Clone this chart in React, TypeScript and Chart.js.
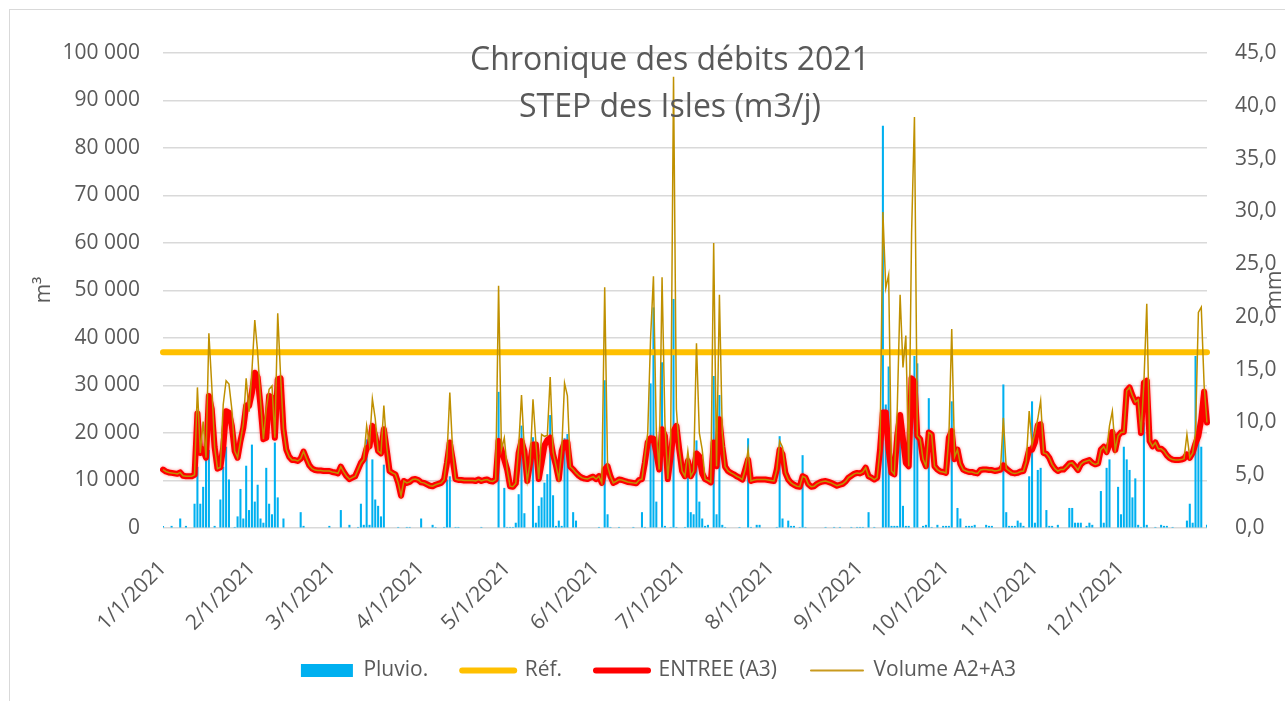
import React, { useEffect, useRef } from 'react';
import { Chart, registerables } from 'chart.js';

Chart.register(...registerables);

const FONT = '"Open Sans", "Noto Sans", sans-serif';
const TEXT = '#595959';

const monthLengths = [31, 28, 31, 30, 31, 30, 31, 31, 30, 31, 30, 31];
const tickLabels = ['1/1/2021', '2/1/2021', '3/1/2021', '4/1/2021', '5/1/2021', '6/1/2021', '7/1/2021', '8/1/2021', '9/1/2021', '10/1/2021', '11/1/2021', '12/1/2021'];
const titleLines = ['Chronique des débits 2021', 'STEP des Isles (m3/j)'];
const refLevel = 37000;

// ENTREE (A3), m3/day
const entreeA3 = [
  12300, 11900, 11700, 11600, 11500, 11400, 11700, 11000, 10900, 10900, 10900, 11200, 24100, 15800, 16500, 14800, 27800, 25000, 17000, 12500, 12800, 17000, 24600, 24300, 21500, 16200, 14800, 18300, 21100, 25800, 25700,
  28500, 32700, 31700, 25700, 18700, 19000, 27800, 27500, 19000, 31300, 31500, 20800, 16500, 15000, 14300, 14300, 14100, 14600, 16100, 14600, 13200, 12500, 12200, 12100, 12100, 12000, 12000, 12000,
  11800, 11700, 11500, 12900, 11800, 10900, 10300, 10600, 10900, 12300, 13700, 14500, 16800, 17200, 21500, 19400, 16200, 15700, 20800, 16500, 12000, 11600, 11300, 9500, 6800, 9900, 9500, 9700, 10200, 10300, 10100,
  9600, 9500, 9200, 8900, 8800, 9100, 9300, 9500, 10200, 13700, 18000, 14400, 10300, 10100, 10100, 10000, 10000, 10000, 10000, 9900, 10200, 9900, 10100, 10200, 9900, 9800, 10200, 18300, 16500, 14400,
  12300, 8800, 8700, 9400, 15800, 18300, 16200, 9900, 13700, 17600, 17600, 10300, 13700, 17400, 18500, 19000, 15500, 13200, 10300, 16200, 18000, 18000, 12900, 12300, 11600, 11000, 10600, 10400, 10300, 10600, 10800,
  10300, 10900, 9500, 12300, 13000, 10900, 9500, 9800, 10200, 10100, 9900, 9700, 9600, 9500, 9400, 10100, 10300, 13700, 18000, 18900, 18800, 15800, 12300, 20800, 19400, 10300, 15100, 20400, 21500, 16500,
  12000, 10900, 14100, 10900, 12000, 15700, 15100, 11500, 10300, 10000, 9600, 18000, 13000, 22900, 17200, 12900, 12000, 11600, 11300, 10900, 10600, 10200, 12300, 14400, 9900, 10100, 10200, 10200, 10200, 10200, 10100,
  10000, 9900, 12300, 16500, 15500, 11600, 10200, 9500, 9100, 8800, 8700, 10900, 10600, 9200, 8700, 8800, 9300, 9600, 9800, 9900, 9700, 9500, 9200, 8900, 9100, 9300, 9800, 10600, 11000, 11400, 11600,
  11500, 11800, 12700, 10900, 10600, 10200, 10600, 16500, 24300, 24300, 16500, 11600, 11300, 19400, 23800, 18700, 13700, 13000, 31500, 30800, 19400, 18700, 14500, 13000, 20100, 19700, 13000, 12300, 11900, 11800,
  11600, 19000, 20400, 14500, 16500, 13500, 12300, 12000, 11800, 11800, 11600, 11500, 12200, 12300, 12300, 12200, 12200, 12000, 12100, 12300, 13200, 12500, 12000, 11600, 11500, 11600, 11900, 12000, 14000, 16500, 16500,
  18000, 21600, 21800, 15800, 15600, 14800, 13400, 12500, 12000, 12300, 12300, 12900, 13600, 13700, 13000, 12200, 13400, 13900, 14100, 14300, 13700, 13400, 13600, 16500, 17100, 16000, 17600, 20200, 16400, 19400,
  20100, 20200, 28900, 29600, 27900, 26500, 27000, 20000, 30600, 31000, 18300, 17200, 18000, 16700, 16700, 16200, 15300, 14700, 14400, 14300, 14300, 14400, 14600, 15500, 14800, 15800, 17800, 19400, 22900, 28700, 22200,
];

// Volume A2+A3, m3/day
const volumeA2A3 = [
  12300, 11900, 11700, 11600, 11500, 11400, 11700, 11000, 10900, 10900, 10900, 11200, 29600, 15800, 22400, 14800, 41000, 30000, 17000, 12500, 12800, 26000, 31000, 30300, 25000, 16200, 14800, 18300, 22000, 31500, 24500,
  33000, 43800, 37000, 27000, 18700, 25000, 29200, 29900, 19000, 45200, 32000, 20800, 16500, 15000, 14300, 14300, 14100, 14600, 16100, 14600, 13200, 12500, 12200, 12100, 12100, 12000, 12000, 12000,
  11800, 11700, 11500, 12900, 11800, 10900, 10300, 10600, 10900, 12300, 13700, 14500, 21500, 17500, 27200, 23000, 16200, 15700, 25800, 17000, 12000, 11600, 11300, 9500, 6800, 9900, 9500, 9700, 10200, 10300, 10100,
  9600, 9500, 9200, 8900, 8800, 9100, 9300, 9500, 10200, 15000, 28500, 16000, 10300, 10100, 10100, 10000, 10000, 10000, 10000, 9900, 10200, 9900, 10100, 10200, 9900, 9800, 10200, 51000, 16500, 19000,
  12300, 8800, 8700, 9400, 17000, 28000, 16200, 9900, 13700, 27100, 18000, 10300, 19700, 19300, 19500, 31800, 16000, 13200, 10300, 16200, 30500, 27800, 12900, 12300, 11600, 11000, 10600, 10400, 10300, 10600, 10800,
  10300, 10900, 9500, 50700, 13000, 10900, 9500, 9800, 10200, 10100, 9900, 9700, 9600, 9500, 9400, 10100, 10300, 15000, 20000, 40000, 53000, 20000, 12300, 52800, 22000, 10300, 18000, 95000, 25000, 16500,
  12000, 10900, 16200, 10900, 12000, 38900, 20000, 16500, 10300, 10000, 9600, 60000, 13000, 49100, 20000, 12900, 12000, 11600, 11300, 10900, 10600, 10200, 12300, 16500, 9900, 10100, 10200, 10200, 10200, 10200, 10100,
  10000, 9900, 12300, 18300, 17000, 11600, 10200, 9500, 9100, 8800, 8700, 10900, 10600, 9200, 8700, 8800, 9300, 9600, 9800, 9900, 9700, 9500, 9200, 8900, 9100, 9300, 9800, 10600, 11000, 11400, 11600,
  11500, 11800, 12700, 10900, 10600, 10200, 10600, 16500, 66500, 50500, 53300, 12000, 11300, 25000, 49100, 33800, 40500, 13000, 62000, 86500, 19400, 18700, 14500, 13000, 20100, 19700, 13000, 12300, 11900, 11800,
  11600, 19000, 41900, 15000, 16500, 13500, 12300, 12000, 11800, 11800, 11600, 11500, 12200, 12300, 12300, 12200, 12200, 12000, 12100, 12300, 23200, 12500, 12000, 11600, 11500, 11600, 11900, 12000, 14000, 24600, 17500,
  20000, 23000, 26800, 15800, 15600, 14800, 13400, 12500, 12000, 12300, 12300, 12900, 13600, 13700, 13000, 12200, 13400, 13900, 14100, 14300, 13700, 13400, 13600, 16500, 17100, 16000, 21500, 24600, 16400, 19400,
  20100, 20200, 28900, 29600, 27900, 26500, 27000, 20000, 30600, 47200, 18300, 17200, 18000, 16700, 16700, 16200, 15300, 14700, 14400, 14300, 14300, 14400, 14600, 19700, 14800, 15800, 20000, 45400, 46500, 30000, 22200,
];

// Pluvio., mm/day
const pluvio = [
  0.2, 0, 0, 0.2, 0, 0, 0.9, 0, 0.2, 0, 0, 2.3, 5.8, 2.3, 3.9, 6.5, 7.4, 0, 0.2, 0, 2.7, 5.8, 7.7, 4.6, 0, 0.1, 1.1, 3.7, 0.9, 5.9, 1.7,
  7.9, 2.5, 4.1, 0.9, 0.5, 5.7, 2.3, 1.3, 8.1, 2.9, 0, 0.9, 0, 0, 0, 0, 0, 1.5, 0.2, 0, 0, 0, 0, 0, 0, 0, 0, 0.2,
  0, 0, 0, 1.7, 0, 0, 0.3, 0, 0, 0.1, 2.3, 0.3, 8.4, 0.3, 6.5, 2.7, 2.1, 1.1, 6.0, 0, 0, 0, 0, 0.1, 0, 0, 0.1, 0.1, 0, 0, 0,
  0.9, 0, 0, 0, 0.3, 0.1, 0, 0, 0.1, 4.6, 4.9, 0, 0.1, 0.1, 0, 0, 0, 0, 0, 0, 0, 0.1, 0, 0, 0, 0, 0, 12.9, 0, 3.8,
  0.1, 0.1, 0.1, 0.5, 3.2, 9.7, 1.4, 0, 0, 8.6, 0.5, 2.1, 2.9, 4.3, 5.1, 10.7, 3.1, 0.2, 0.7, 0.2, 8.5, 8.9, 0, 1.5, 0.7, 0, 0, 0, 0, 0, 0,
  0, 0.1, 0, 14, 1.3, 0.1, 0, 0, 0.1, 0, 0, 0, 0, 0.1, 0, 0, 1.5, 0.1, 0, 13.7, 20.9, 2.5, 0, 15.7, 0.2, 0, 0.1, 21.7, 0.1, 0,
  0, 0.1, 4.9, 1.5, 1.3, 8.3, 2.5, 0.9, 0.2, 0.3, 0, 14.4, 1.3, 12.6, 0.3, 0.1, 0, 0, 0, 0, 0.1, 0, 0, 8.5, 0.1, 0, 0.3, 0.3, 0, 0, 0,
  0, 0, 0.1, 8.7, 0.9, 0, 0.7, 0.2, 0.2, 0, 0.1, 6.9, 0.1, 0, 0, 0, 0, 0, 0, 0.1, 0, 0, 0.1, 0, 0.1, 0, 0, 0, 0.1, 0, 0.1,
  0.1, 0.1, 0, 1.5, 0, 0.1, 0, 0, 38.1, 11.7, 15.3, 0.2, 0.2, 0.2, 10, 2.1, 0.2, 0.2, 0, 16.3, 15.6, 0, 0.2, 0.3, 12.3, 0.1, 0, 0.3, 0, 0.2,
  0.2, 0.2, 12, 0, 1.9, 0.9, 0, 0.2, 0.2, 0.2, 0.3, 0, 0, 0, 0.3, 0.2, 0.2, 0, 0, 0, 13.6, 1.5, 0.2, 0.2, 0.2, 0.7, 0.5, 0.2, 0, 4.9, 12,
  0.5, 5.5, 5.7, 0, 1.7, 0.2, 0.2, 0, 0.3, 0, 0, 0, 1.9, 1.9, 0.5, 0.5, 0.5, 0, 0.2, 0.5, 0.3, 0, 0, 3.5, 0.5, 5.7, 6.5, 0, 0, 3.9,
  1.3, 7.7, 6.5, 5.5, 2.9, 4.7, 0.3, 0.1, 10, 0.3, 0, 0, 0.1, 0, 0.3, 0.2, 0.2, 0, 0.1, 0, 0, 0, 0, 0.7, 2.3, 0.5, 16.3, 8.4, 7.7, 0, 0.3,
];

const dayLabels: string[] = [];
monthLengths.forEach((n, m) => {
  for (let d = 1; d <= n; d++) dayLabels.push(`${m + 1}/${d}/2021`);
});

const legendSpec = [
  { style: 'rect', color: '#00b0f0', width: 0 },
  { style: 'line', color: '#ffc000', width: 6 },
  { style: 'line', color: '#ff0000', width: 6 },
  { style: 'line', color: '#c99a1e', width: 2 },
];

const fmtThousands = (v: number) => String(v).replace(/\B(?=(\d{3})+(?!\d))/g, ' ');

const overlayText = {
  id: 'overlayText',
  afterDraw(chart: any) {
    const ctx = chart.ctx;
    ctx.save();
    ctx.fillStyle = TEXT;
    ctx.textAlign = 'center';
    ctx.textBaseline = 'alphabetic';
    ctx.font = `32px ${FONT}`;
    titleLines.forEach((t, i) => ctx.fillText(t, 662, 61.5 + i * 47));
    ctx.font = `21px ${FONT}`;
    ctx.save();
    ctx.translate(42, 282);
    ctx.rotate(-Math.PI / 2);
    ctx.fillText('m³', 0, 0);
    ctx.restore();
    ctx.save();
    ctx.translate(1273, 282);
    ctx.rotate(-Math.PI / 2);
    ctx.fillText('mm', 0, 0);
    ctx.restore();
    ctx.restore();
  },
};

const legendNudge = {
  id: 'legendNudge',
  afterLayout(chart: any) {
    const lg = chart.legend;
    if (!lg) return;
    lg.top -= 10;
    lg.bottom -= 10;
    lg.left += 12;
    lg.right += 12;
  },
};

// soft glow on the thick red line, as in the original
const redGlow = {
  id: 'redGlow',
  beforeDatasetDraw(chart: any, args: any) {
    if (args.index !== 2) return;
    const ctx = chart.ctx;
    ctx.save();
    ctx.shadowColor = 'rgba(255, 40, 40, 0.55)';
    ctx.shadowBlur = 3;
  },
  afterDatasetDraw(chart: any, args: any) {
    if (args.index !== 2) return;
    chart.ctx.restore();
  },
};

export default function App() {
  const ref = useRef<HTMLCanvasElement>(null);

  useEffect(() => {
    const font = { family: FONT, size: 21 };
    const chart = new Chart(ref.current as HTMLCanvasElement, {
      type: 'bar',
      data: {
        labels: dayLabels,
        datasets: [
          {
            type: 'bar',
            label: 'Pluvio.',
            data: pluvio,
            yAxisID: 'y1',
            backgroundColor: '#00b0f0',
            borderWidth: 0,
            categoryPercentage: 0.8,
            barPercentage: 0.9,
            order: 4,
          },
          {
            type: 'line',
            label: 'Réf.',
            data: dayLabels.map(() => refLevel),
            yAxisID: 'y',
            borderColor: '#ffc000',
            backgroundColor: '#ffc000',
            borderWidth: 6,
            borderCapStyle: 'round',
            pointRadius: 0,
            order: 3,
          },
          {
            type: 'line',
            label: 'ENTREE (A3)',
            data: entreeA3,
            yAxisID: 'y',
            borderColor: '#ff0000',
            backgroundColor: '#ff0000',
            borderWidth: 6,
            borderJoinStyle: 'round',
            borderCapStyle: 'round',
            pointRadius: 0,
            order: 2,
          },
          {
            type: 'line',
            label: 'Volume A2+A3',
            data: volumeA2A3,
            yAxisID: 'y',
            borderColor: '#bf9000',
            backgroundColor: '#bf9000',
            borderWidth: 1.5,
            pointRadius: 0,
            order: 1,
          },
        ],
      } as any,
      options: {
        responsive: false,
        animation: false,
        events: [],
        layout: { padding: { top: 45, left: 0, right: 0, bottom: 0 } },
        plugins: {
          title: { display: false },
          tooltip: { enabled: false },
          legend: {
            position: 'bottom',
            labels: {
              usePointStyle: true,
              pointStyleWidth: 52,
              boxHeight: 13,
              padding: 34,
              color: TEXT,
              font,
              generateLabels: (chart: any) =>
                chart.data.datasets.map((ds: any, i: number) => ({
                  text: ds.label,
                  fillStyle: legendSpec[i].color,
                  strokeStyle: legendSpec[i].color,
                  lineWidth: legendSpec[i].width,
                  lineCap: 'round',
                  pointStyle: legendSpec[i].style,
                  hidden: false,
                  datasetIndex: i,
                  fontColor: TEXT,
                })),
            },
          },
        },
        scales: {
          x: {
            type: 'category',
            offset: false,
            grid: { display: false },
            border: { display: false },
            ticks: {
              autoSkip: false,
              minRotation: 45,
              maxRotation: 45,
              padding: 20,
              color: TEXT,
              font,
              callback: (_v: any, index: number) => {
                const l = dayLabels[index];
                return tickLabels.includes(l) ? l : '';
              },
            },
            afterFit: (s: any) => {
              s.height = 108;
            },
          },
          y: {
            position: 'left',
            min: 0,
            max: 100000,
            ticks: {
              stepSize: 10000,
              padding: 23,
              color: TEXT,
              font,
              callback: (v: any) => fmtThousands(Number(v)),
            },
            grid: { color: '#d9d9d9', lineWidth: 1.5, drawTicks: false },
            border: { display: false },
            afterFit: (s: any) => {
              s.width = 155;
            },
          },
          y1: {
            position: 'right',
            min: 0,
            max: 45,
            ticks: {
              stepSize: 5,
              padding: 28,
              color: TEXT,
              font,
              callback: (v: any) => Number(v).toFixed(1).replace('.', ','),
            },
            grid: { drawOnChartArea: false, drawTicks: false },
            border: { display: false },
            afterFit: (s: any) => {
              s.width = 78;
            },
          },
        },
      } as any,
      plugins: [overlayText, legendNudge, redGlow],
    });
    return () => chart.destroy();
  }, []);

  return (
    <div style={{ position: 'fixed', left: 8, top: 8, width: 1277, height: 693 }}>
      <canvas ref={ref} width={1277} height={693} style={{ display: 'block' }} />
      <div
        style={{
          position: 'absolute',
          left: 1,
          top: 1,
          right: 0,
          bottom: 0,
          borderLeft: '1px solid #d9d9d9',
          borderTop: '1px solid #d9d9d9',
          pointerEvents: 'none',
        }}
      />
    </div>
  );
}
